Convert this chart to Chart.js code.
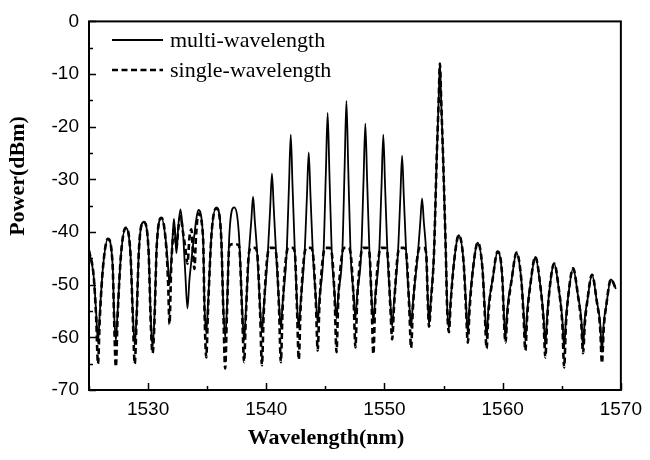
<!DOCTYPE html>
<html>
<head>
<meta charset="utf-8">
<title>Power spectrum</title>
<script src="https://cdn.jsdelivr.net/npm/chart.js@4.4.0/dist/chart.umd.min.js"></script>
<style>
    html, body { margin: 0; padding: 0; background: #fff; }
    canvas { display: block; }
</style>
</head>
<body>
<canvas id="spectrum" width="650" height="460"></canvas>
<script>
// wavelength (nm), one line per fringe of the comb
const wavelength = [
    1525.00, 1525.40, 1525.61, 1525.76, 1525.91,
    1526.20, 1526.60, 1527.00, 1527.12, 1527.27, 1527.42,
    1527.71, 1528.11, 1528.51, 1528.72, 1528.87, 1529.02,
    1529.23, 1529.63, 1530.03, 1530.23, 1530.38, 1530.53,
    1530.74, 1531.14, 1531.54, 1531.70, 1531.81, 1531.95,
    1532.10, 1532.19, 1532.30, 1532.40, 1532.55, 1532.74, 1532.95, 1533.15, 1533.33,
    1533.50, 1533.66, 1533.80, 1533.92, 1534.05, 1534.25, 1534.65, 1534.77, 1534.92, 1535.07,
    1535.37, 1535.77, 1536.17, 1536.37, 1536.52, 1536.67,
    1536.88, 1537.28, 1537.68, 1537.97, 1538.12, 1538.27,
    1538.53, 1538.73, 1538.88, 1539.03, 1539.23, 1539.48, 1539.63, 1539.78,
    1540.13, 1540.33, 1540.48, 1540.63, 1540.83, 1541.08, 1541.23, 1541.38,
    1541.72, 1541.92, 1542.07, 1542.22, 1542.42, 1542.60, 1542.75, 1542.90,
    1543.24, 1543.44, 1543.59, 1543.74, 1543.94, 1544.20, 1544.35, 1544.50,
    1544.84, 1545.04, 1545.19, 1545.34, 1545.54, 1545.79, 1545.94, 1546.09,
    1546.43, 1546.63, 1546.78, 1546.93, 1547.13, 1547.39, 1547.54, 1547.69,
    1548.03, 1548.23, 1548.38, 1548.53, 1548.73, 1548.91, 1549.06, 1549.21,
    1549.55, 1549.75, 1549.90, 1550.05, 1550.25, 1550.50, 1550.65, 1550.80,
    1551.14, 1551.34, 1551.49, 1551.64, 1551.84, 1552.10, 1552.25, 1552.40,
    1552.83, 1553.03, 1553.18, 1553.33, 1553.53, 1553.67, 1553.77, 1553.92,
    1554.19, 1554.41, 1554.59, 1554.69, 1554.79, 1554.97, 1555.19, 1555.30, 1555.45, 1555.60,
    1555.89, 1556.29, 1556.69, 1556.90, 1557.05, 1557.20,
    1557.49, 1557.89, 1558.29, 1558.49, 1558.64, 1558.79,
    1559.17, 1559.57, 1559.97, 1560.09, 1560.24, 1560.39,
    1560.77, 1561.17, 1561.57, 1561.77, 1561.92, 1562.07,
    1562.36, 1562.76, 1563.16, 1563.46, 1563.61, 1563.76,
    1563.96, 1564.36, 1564.76, 1565.05, 1565.20, 1565.35,
    1565.56, 1565.96, 1566.36, 1566.65, 1566.80, 1566.95,
    1567.16, 1567.56, 1567.96, 1568.25, 1568.40, 1568.55,
    1568.76, 1569.16, 1569.58
];

// power (dBm), multi-wavelength (solid)
const multiPower = [
    -43.5, -48.5, -55.5, -61, -55.5,
    -46.3, -41.3, -46.3, -55.1, -60.6, -55.1,
    -44.2, -39.2, -44.2, -56, -61.5, -56,
    -43.1, -38.1, -43.1, -56.5, -62, -56.5,
    -42.3, -37.3, -42.5, -47, -50, -46,
    -40, -37.5, -41, -44, -39, -35.7, -40, -48, -54.5,
    -49, -45.5, -42.5, -40.5, -38, -35.8, -41, -53.7, -59.2, -53.7,
    -40.3, -35.3, -40.3, -54.5, -60, -54.5,
    -40.3, -35.3, -40.3, -55.1, -60.6, -55.1,
    -44, -37.9, -33.3, -37.9, -44, -54.5, -59, -54.5,
    -44, -35.4, -28.9, -35.4, -44, -53.6, -58.1, -53.6,
    -44, -31.2, -21.5, -31.2, -44, -53.6, -58.1, -53.6,
    -44, -33.1, -24.9, -33.1, -44, -52.7, -57.2, -52.7,
    -44, -28.8, -17.4, -28.8, -44, -51.9, -56.4, -51.9,
    -44, -27.5, -15.1, -27.5, -44, -51.9, -56.4, -51.9,
    -44, -30, -19.4, -30, -44, -52.5, -57, -52.5,
    -44, -31.2, -21.5, -31.2, -44, -53.4, -57.9, -53.4,
    -44, -33.5, -25.5, -33.5, -44, -53.6, -58.1, -53.6,
    -44, -38.1, -33.6, -38.1, -44, -53, -57.6, -53,
    -44, -26.6, -14.6, -8, -14.6, -26.6, -44, -53.8, -58.3, -53,
    -45.6, -40.6, -45.6, -53.7, -59.2, -53.7,
    -47, -42, -47, -54.6, -60.1, -54.6,
    -48.7, -43.7, -48.7, -54.7, -60.2, -54.7,
    -48.9, -43.9, -48.9, -55.1, -60.6, -55.1,
    -49.7, -44.7, -49.7, -56, -61.5, -56,
    -51, -46, -51, -56.6, -62.1, -56.6,
    -51.9, -46.9, -51.9, -56.4, -61.9, -56.4,
    -53.1, -48.1, -53.1, -57.3, -62.8, -57.3,
    -54, -49, -50.8
];

// power (dBm), single-wavelength (dashed)
const singlePower = [
    -43.5, -48.5, -56.5, -65, -56.5,
    -46.3, -41.3, -46.3, -56.1, -65.6, -56.1,
    -44.2, -39.2, -44.2, -57, -65, -57,
    -43.1, -38.1, -43.1, -57.5, -63, -57.5,
    -42.3, -37.3, -43, -50, -57.5, -47,
    -41, -39, -41, -43, -39.5, -37, -40, -43, -46,
    -41, -39.5, -44, -47, -41, -36.5, -41, -54.7, -63.8, -54.7,
    -40.3, -35.5, -40.3, -55.5, -65.9, -55.5,
    -42.5, -42.3, -42.5, -56.1, -64.7, -56.1,
    -44, -43, -43, -43, -44, -55.5, -65.3, -55.5,
    -44, -43, -43, -43, -44, -54.6, -64.7, -54.6,
    -44, -43, -43, -43, -44, -54.6, -64.2, -54.6,
    -44, -43, -43, -43, -44, -53.7, -62.5, -53.7,
    -44, -43, -43, -43, -44, -52.9, -62.8, -52.9,
    -44, -43, -43, -43, -44, -52.9, -61.9, -52.9,
    -44, -43, -43, -43, -44, -53.5, -63.2, -53.5,
    -44, -43, -43, -43, -44, -54.4, -60.4, -54.4,
    -44, -43, -43, -43, -44, -54.6, -62, -54.6,
    -44, -43, -43, -43, -44, -53.5, -58, -53.5,
    -44, -26.6, -14.6, -8, -14.6, -26.6, -44, -54.3, -59, -53.5,
    -45.6, -40.6, -45.6, -54.7, -61, -54.7,
    -47, -42, -47, -55.6, -62.1, -55.6,
    -48.7, -43.7, -48.7, -55.7, -61, -55.7,
    -48.9, -43.9, -48.9, -56.1, -62.5, -56.1,
    -49.7, -44.7, -49.7, -57, -63.8, -57,
    -51, -46, -51, -57.6, -65.7, -57.6,
    -51.9, -46.9, -51.9, -57.4, -63, -57.4,
    -53.1, -48.1, -53.1, -58.3, -64.9, -58.3,
    -54, -49, -50.8
];

const seriesLabels = ['multi-wavelength', 'single-wavelength'];
const xTitle = 'Wavelength(nm)';
const yTitle = 'Power(dBm)';

const tickFont = { family: '"Liberation Sans", Arial, sans-serif', size: 19 };
const serif = '"Liberation Serif", "Times New Roman", serif';

function toPoints(values) {
    return wavelength.map((x, i) => ({ x: x, y: values[i] }));
}

// frame, inward ticks, axis titles and the legend box in the corner
const framePlugin = {
    id: 'frame',
    afterDraw(chart) {
        const ctx = chart.ctx;
        const a = chart.chartArea;
        const xs = chart.scales.x;
        const ys = chart.scales.y;

        ctx.save();
        ctx.strokeStyle = '#000';
        ctx.lineWidth = 2;
        ctx.strokeRect(a.left, a.top, a.right - a.left, a.bottom - a.top);

        ctx.lineWidth = 1.5;
        ctx.beginPath();
        xs.ticks.forEach(t => {
            const px = Math.round(xs.getPixelForValue(t.value)) + 0.5;
            const len = t.value % 10 === 0 ? 7 : 4;
            ctx.moveTo(px, a.bottom);
            ctx.lineTo(px, a.bottom - len);
        });
        ys.ticks.forEach(t => {
            const py = Math.round(ys.getPixelForValue(t.value)) + 0.5;
            const len = t.value % 10 === 0 ? 7 : 4;
            ctx.moveTo(a.left, py);
            ctx.lineTo(a.left + len, py);
        });
        ctx.stroke();

        ctx.fillStyle = '#000';
        ctx.font = 'bold 22px ' + serif;
        ctx.textAlign = 'center';
        ctx.textBaseline = 'middle';
        ctx.fillText(xTitle, 326, 438);

        ctx.save();
        ctx.translate(18, 176);
        ctx.rotate(-Math.PI / 2);
        ctx.fillText(yTitle, 0, 0);
        ctx.restore();

        // legend
        ctx.font = '22px ' + serif;
        ctx.textAlign = 'left';
        chart.data.datasets.forEach((ds, i) => {
            const y = 40 + i * 30;
            ctx.lineWidth = ds.borderWidth;
            ctx.setLineDash(ds.borderDash || []);
            ctx.beginPath();
            ctx.moveTo(112, y);
            ctx.lineTo(163, y);
            ctx.stroke();
            ctx.setLineDash([]);
            ctx.fillText(ds.label, 170, y + 1);
        });
        ctx.restore();
    }
};

new Chart(document.getElementById('spectrum'), {
    type: 'line',
    data: {
        datasets: [{
            label: seriesLabels[0],
            data: toPoints(multiPower),
            borderColor: '#000',
            borderWidth: 1.8,
            pointRadius: 0,
            fill: false,
            cubicInterpolationMode: 'monotone'
        }, {
            label: seriesLabels[1],
            data: toPoints(singlePower),
            borderColor: '#000',
            borderWidth: 2.6,
            borderDash: [6, 3.5],
            pointRadius: 0,
            fill: false,
            cubicInterpolationMode: 'monotone'
        }]
    },
    options: {
        responsive: false,
        animation: false,
        devicePixelRatio: 1,
        layout: { padding: { top: 19, right: 27, left: 0, bottom: 0 } },
        plugins: {
            legend: { display: false },
            tooltip: { enabled: false }
        },
        scales: {
            x: {
                type: 'linear',
                min: 1525,
                max: 1570,
                afterFit: s => { s.height = 70; },
                grid: { display: false, drawTicks: false },
                border: { display: false },
                ticks: {
                    stepSize: 5,
                    autoSkip: false,
                    maxRotation: 0,
                    padding: 8,
                    color: '#000',
                    font: tickFont,
                    callback: v => v % 10 === 0 ? String(v) : ''
                }
            },
            y: {
                min: -70,
                max: 0,
                afterFit: s => { s.width = 89; },
                grid: { display: false, drawTicks: false },
                border: { display: false },
                ticks: {
                    stepSize: 5,
                    autoSkip: false,
                    padding: 10,
                    color: '#000',
                    font: tickFont,
                    callback: v => v % 10 === 0 ? String(v) : ''
                }
            }
        }
    },
    plugins: [framePlugin]
});
</script>
</body>
</html>
